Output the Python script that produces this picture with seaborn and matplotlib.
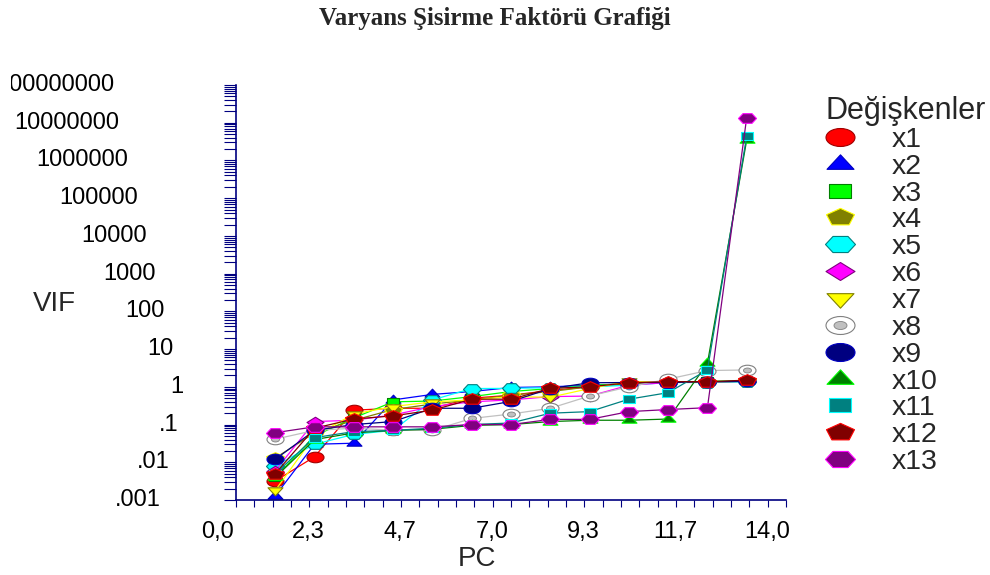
import numpy as np
import pandas as pd
import seaborn as sns
import matplotlib
matplotlib.use("Agg")
import matplotlib.pyplot as plt
from matplotlib.path import Path
from matplotlib.transforms import (Affine2D, blended_transform_factory,
                                   ScaledTranslation, Bbox, TransformedBbox)
from matplotlib.lines import Line2D
from matplotlib.ticker import FixedLocator, MultipleLocator, LogLocator, NullFormatter

# ---------------- data ----------------
PC = [1, 2, 3, 4, 5, 6, 7, 8, 9, 10, 11, 12, 13]
x1 = [0.0032, 0.014, 0.24, 0.27, 0.27, 0.50, 0.60, 0.80, 1.00, 1.20, 1.30, 1.35, 1.40]
x2 = [0.0013, 0.030, 0.032, 0.45, 0.63, 0.75, 0.96, 1.00, 1.10, 1.20, 1.30, 1.35, 1.40]
x3 = [0.0040, 0.050, 0.15, 0.40, 0.42, 0.55, 0.75, 0.90, 1.10, 1.20, 1.30, 1.40, 1.45]
x4 = [0.013, 0.060, 0.13, 0.25, 0.35, 0.45, 0.60, 0.75, 1.00, 1.20, 1.30, 1.35, 1.40]
x5 = [0.008, 0.030, 0.055, 0.07, 0.45, 0.90, 0.91, 0.95, 1.00, 1.10, 1.30, 1.30, 1.35]
x6 = [0.006, 0.12, 0.13, 0.18, 0.30, 0.40, 0.45, 0.55, 0.57, 1.10, 1.30, 1.35, 1.40]
x7 = [0.0018, 0.050, 0.19, 0.30, 0.40, 0.45, 0.55, 0.53, 0.90, 1.40, 1.30, 1.35, 1.40]
x8 = [0.041, 0.070, 0.080, 0.071, 0.070, 0.145, 0.19, 0.27, 0.57, 1.00, 1.60, 2.70, 2.80]
x9 = [0.012, 0.070, 0.10, 0.12, 0.27, 0.27, 0.41, 0.90, 1.28, 1.30, 1.30, 1.35, 1.40]
x10 = [0.004, 0.040, 0.060, 0.070, 0.075, 0.095, 0.10, 0.12, 0.13, 0.13, 0.14, 4.2, 3.5e6]
x11 = [0.005, 0.045, 0.065, 0.070, 0.080, 0.10, 0.11, 0.20, 0.22, 0.47, 0.70, 2.8, 4.4e6]
x12 = [0.005, 0.080, 0.14, 0.17, 0.24, 0.47, 0.47, 0.91, 1.00, 1.28, 1.37, 1.37, 1.50]
x13 = [0.061, 0.087, 0.087, 0.087, 0.087, 0.10, 0.10, 0.137, 0.137, 0.22, 0.25, 0.28, 1.37e7]

names = ["x1", "x2", "x3", "x4", "x5", "x6", "x7", "x8", "x9", "x10", "x11", "x12", "x13"]
series = [x1, x2, x3, x4, x5, x6, x7, x8, x9, x10, x11, x12, x13]

y_ticks = [1e-3, 1e-2, 1e-1, 1, 10, 100, 1e3, 1e4, 1e5, 1e6, 1e7, 1e8]
y_tick_labels = [".001", ".01", ".1", "1", "10", "100", "1000", "10000",
                 "100000", "1000000", "10000000", "100000000"]
x_ticks = [0, 14 / 6, 28 / 6, 7, 56 / 6, 70 / 6, 14]
x_tick_labels = ["0,0", "2,3", "4,7", "7,0", "9,3", "11,7", "14,0"]

title = "Varyans Şisirme Faktörü Grafiği"
legend_title = "Değişkenler"

df = pd.DataFrame({
    "PC": PC * len(names),
    "VIF": np.concatenate(series),
    "Değişken": np.repeat(names, len(PC)),
})

# ---------------- markers ----------------
SY = 0.62
def squash(path, rot=0.0, flip=False):
    p = path.transformed(Affine2D().rotate_deg(rot))
    v = p.vertices.copy()
    v[:, 1] *= SY * (-1 if flip else 1)
    return Path(v, p.codes)

ellipse = squash(Path.unit_circle())
tri_up = squash(Path.unit_regular_polygon(3))
tri_down = squash(Path.unit_regular_polygon(3), flip=True)
square = squash(Path.unit_regular_polygon(4), rot=45)
pent = squash(Path.unit_regular_polygon(5))
hexa = squash(Path.unit_regular_polygon(6), rot=30)
diamond = squash(Path.unit_regular_polygon(4))

PX = 1 / 1.389  # px -> pt at 100 dpi
# marker, face, edge, line color, plot size(px), legend size(px)
styles = {
    "x1": (ellipse, "#ff0000", "#a00000", "#ff0000", 17, 29),
    "x2": (tri_up, "#0000ff", "#0000c0", "#0000ff", 15, 27),
    "x3": (square, "#00ff00", "#008000", "#00ff00", 13, 22),
    "x4": (pent, "#808000", "#ffff00", "#808000", 18, 28),
    "x5": (hexa, "#00ffff", "#008080", "#00ffff", 18, 30),
    "x6": (diamond, "#ff00ff", "#800080", "#ff00ff", 17, 29),
    "x7": (tri_down, "#ffff00", "#808000", "#ffff00", 15, 27),
    "x8": (ellipse, "#ffffff", "#808080", "#c0c0c0", 17, 29),
    "x9": (ellipse, "#000080", "#0000c0", "#000080", 17, 29),
    "x10": (tri_up, "#008000", "#00ff00", "#008000", 15, 27),
    "x11": (square, "#008080", "#00ffff", "#008080", 13, 22),
    "x12": (pent, "#800000", "#ff0000", "#800000", 18, 28),
    "x13": (hexa, "#800080", "#ff00ff", "#800080", 18, 30),
}

# ---------------- figure ----------------
sns.set_theme(style="white")
plt.rcParams["font.family"] = ["Liberation Sans", "DejaVu Sans"]
fig = plt.figure(figsize=(9.9, 5.75), dpi=100)
W, H = 990, 575
ax = fig.add_axes([236 / W, 1 - 500 / H, 550 / W, 415 / H])
AXC = "#000080"

for name in names:
    m, fc, ec, lc, sz, _ = styles[name]
    sub = df[df["Değişken"] == name]
    sns.lineplot(data=sub, x="PC", y="VIF", ax=ax, color=lc, linewidth=0.9,
                 marker=m, markersize=sz * PX, markerfacecolor=fc,
                 markeredgecolor=ec, markeredgewidth=0.8,
                 errorbar=None, legend=False, sort=False)
    if name == "x8":
        sns.lineplot(data=sub, x="PC", y="VIF", ax=ax, color=lc, linestyle="none",
                     marker=ellipse, markersize=8 * PX, markerfacecolor="#c0c0c0",
                     markeredgecolor="#808080", markeredgewidth=0.6,
                     errorbar=None, legend=False, sort=False)

ax.set_yscale("log")
ax.set_ylim(1e-3, 1e8)
ax.set_xlim(0, 14)
ax.set_xlabel("")
ax.set_ylabel("")

for s in ["top", "right"]:
    ax.spines[s].set_visible(False)
for s in ["left", "bottom"]:
    ax.spines[s].set_color(AXC)
    ax.spines[s].set_linewidth(1.2)

# y ticks
ax.yaxis.set_major_locator(FixedLocator(y_ticks))
ax.yaxis.set_minor_locator(LogLocator(base=10, subs=np.arange(2, 10), numticks=50))
ax.yaxis.set_major_formatter(NullFormatter())
ax.yaxis.set_minor_formatter(NullFormatter())
ax.tick_params(axis="y", which="both", direction="out", length=12 * PX,
               width=0.8, color=AXC, left=True)

# x ticks
ax.xaxis.set_major_locator(FixedLocator(x_ticks))
ax.xaxis.set_minor_locator(MultipleLocator(14 / 30))
ax.set_xticklabels(x_tick_labels)
ax.tick_params(axis="x", which="both", direction="out", length=7 * PX,
               width=0.8, color=AXC, bottom=True, labelsize=17, pad=10,
               labelcolor="black")
for lab in ax.get_xticklabels():
    lab.set_transform(lab.get_transform() + ScaledTranslation(-19 / 100, 0, fig.dpi_scale_trans))

# y tick labels, placed like the original software does
renderer = fig.canvas.get_renderer()
tr = blended_transform_factory(fig.transFigure, ax.transData)
clip = TransformedBbox(Bbox([[10.5 / W, 0], [1, 1]]), fig.transFigure)
for v, s in zip(y_ticks, y_tick_labels):
    t = ax.text(0, v, s, transform=tr, ha="left", va="center", fontsize=17,
                color="black", clip_on=False)
    w = t.get_window_extent(renderer).width
    left = max(192 - 1.69 * w, -4.0)
    t.set_x(left / W)
    if left < 10:
        t.set_clip_box(clip)
        t.set_clip_on(True)

# texts
fig.text(0.5, 1 - 18 / H, title, ha="center", va="center", fontsize=18,
         fontweight="bold", family=["Liberation Serif", "DejaVu Serif"])
fig.text(54 / W, 1 - 304 / H, "VIF", ha="center", va="center", fontsize=20)
fig.text(477 / W, 1 - 559 / H, "PC", ha="center", va="center", fontsize=20)

# legend
handles = []
for name in names:
    m, fc, ec, lc, _, lsz = styles[name]
    h = Line2D([], [], linestyle="none", marker=m, markersize=lsz * PX,
               markerfacecolor=fc, markeredgecolor=ec, markeredgewidth=0.8)
    if name == "x8":
        inner = Line2D([], [], linestyle="none", marker=ellipse, markersize=13 * PX,
                       markerfacecolor="#c0c0c0", markeredgecolor="#808080",
                       markeredgewidth=0.6)
        h = (h, inner)
    handles.append(h)
leg = ax.legend(handles, names, title=legend_title, loc="upper left",
                bbox_to_anchor=(826 / W, 1 - 96 / H), bbox_transform=fig.transFigure,
                frameon=False, fontsize=20.5, title_fontsize=22, handlelength=1.0,
                handletextpad=1.3, labelspacing=0.03, borderpad=0, borderaxespad=0,
                alignment="left")

fig.savefig("out.png", dpi=100)
